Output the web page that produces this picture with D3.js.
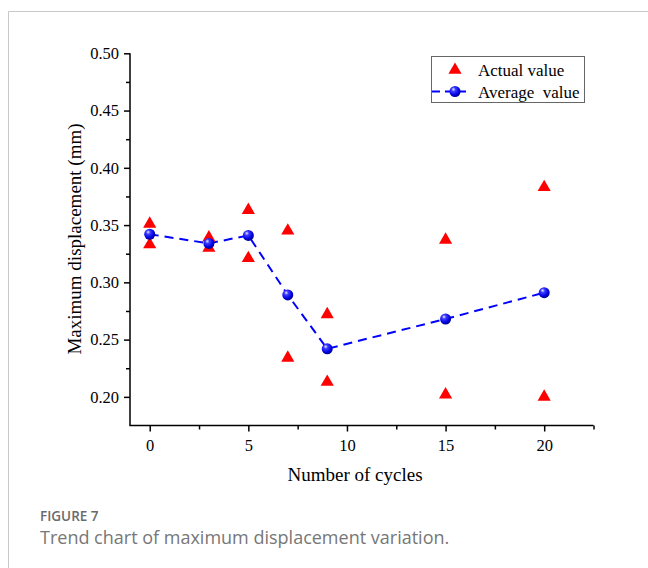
<!DOCTYPE html>
<html><head><meta charset="utf-8">
<script src="https://cdn.jsdelivr.net/npm/d3@7"></script>
<style>body{margin:0;background:#fff}svg{display:block}</style>
</head><body>
<svg id="c" width="648" height="568"></svg>
<script>
const cycles = [0, 3, 5, 7, 9, 15, 20];
const actualHigh = [0.351, 0.339, 0.363, 0.345, 0.272, 0.337, 0.383];
const actualLow = [0.333, 0.330, 0.321, 0.234, 0.213, 0.202, 0.200];
const averageVals = [0.342, 0.334, 0.341, 0.289, 0.242, 0.268, 0.291];
const xTicks = [0, 5, 10, 15, 20];
const yTicks = [0.20, 0.25, 0.30, 0.35, 0.40, 0.45, 0.50];

const svg = d3.select("#c");
const serif = "'Liberation Serif','Times New Roman',serif";

// outer frame
svg.append("line").attr("x1",8.5).attr("x2",648).attr("y1",11.5).attr("y2",11.5).attr("stroke","#c8c8c8").attr("stroke-width",1);
svg.append("line").attr("x1",8.5).attr("x2",8.5).attr("y1",11.5).attr("y2",568).attr("stroke","#c8c8c8").attr("stroke-width",1);

const x = d3.scaleLinear().domain([-1, 22.5]).range([130, 593.5]);
const y = d3.scaleLinear().domain([0.175, 0.50]).range([425.5, 53.3]);

const defs = svg.append("defs");
const grad = defs.append("radialGradient").attr("id","sph").attr("cx","40%").attr("cy","35%").attr("r","65%").attr("fx","35%").attr("fy","30%");
grad.append("stop").attr("offset","0%").attr("stop-color","#e8e8ff");
grad.append("stop").attr("offset","30%").attr("stop-color","#3a3aff");
grad.append("stop").attr("offset","75%").attr("stop-color","#0000e0");
grad.append("stop").attr("offset","100%").attr("stop-color","#00008a");

// axes
const xAxis = d3.axisBottom(x).tickValues(xTicks).tickSize(6).tickPadding(8).tickFormat(d3.format("d"));
const xMinor = d3.axisBottom(x).tickValues([2.5,7.5,12.5,17.5,22.5]).tickSize(4).tickFormat("");
const yAxis = d3.axisLeft(y).tickValues(yTicks).tickSize(6).tickPadding(5).tickFormat(d3.format(".2f"));
const yMinor = d3.axisLeft(y).tickValues([0.225,0.275,0.325,0.375,0.425,0.475]).tickSize(4).tickFormat("");

function style(g){
  g.select(".domain").remove();
  g.selectAll("line").attr("stroke","#000").attr("stroke-width",1.5);
  g.selectAll("text").attr("font-family",serif).attr("font-size",16.5).attr("fill","#000");
}
svg.append("g").attr("transform","translate(0,425.5)").call(xMinor).call(style);
svg.append("g").attr("transform","translate(0,425.5)").call(xAxis).call(style);
svg.append("g").attr("transform","translate(130,0)").call(yMinor).call(style);
svg.append("g").attr("transform","translate(130,0)").call(yAxis).call(style);
svg.append("path").attr("d",`M130,${y(0.5)}V425.5H${x(22.5)}`).attr("fill","none").attr("stroke","#000").attr("stroke-width",1.5);

// axis titles
svg.append("text").attr("x",355).attr("y",481).attr("text-anchor","middle").attr("font-family",serif).attr("font-size",19).text("Number of cycles");
svg.append("text").attr("transform","translate(81,239) rotate(-90)").attr("text-anchor","middle").attr("font-family",serif).attr("font-size",19).text("Maximum displacement (mm)");

// average line
const avgData = cycles.map((c,i)=>({c, v:averageVals[i]}));
svg.append("path").datum(avgData)
  .attr("d", d3.line().x(d=>x(d.c)).y(d=>y(d.v)))
  .attr("fill","none").attr("stroke","#0000ff").attr("stroke-width",2).attr("stroke-dasharray","9,6");

// triangles
const tri = d3.symbol().type(d3.symbolTriangle).size(75);
const actualData = cycles.flatMap((c,i)=>[{c,v:actualHigh[i]},{c,v:actualLow[i]}]);
svg.append("g").selectAll("path").data(actualData).join("path")
  .attr("d", tri).attr("transform", d=>`translate(${x(d.c)},${y(d.v)})`).attr("fill","#ff0000");

// spheres
svg.append("g").selectAll("circle").data(avgData).join("circle")
  .attr("cx", d=>x(d.c)).attr("cy", d=>y(d.v)).attr("r",5.5).attr("fill","url(#sph)");

// legend
const lg = svg.append("g");
lg.append("rect").attr("x",431.5).attr("y",56.5).attr("width",153).attr("height",46).attr("fill","#fff").attr("stroke","#666").attr("stroke-width",1);
lg.append("path").attr("d",tri).attr("transform","translate(455,70)").attr("fill","#ff0000");
lg.append("line").attr("x1",432).attr("x2",468).attr("y1",91.5).attr("y2",91.5).attr("stroke","#0000ff").attr("stroke-width",2).attr("stroke-dasharray","8,5");
lg.append("circle").attr("cx",455).attr("cy",91.5).attr("r",5.5).attr("fill","url(#sph)");
lg.append("text").attr("x",478).attr("y",76).attr("font-family",serif).attr("font-size",17).text("Actual value");
lg.append("text").attr("x",478).attr("y",97.5).attr("font-family",serif).attr("font-size",17).attr("xml:space","preserve").style("white-space","pre").text("Average  value");

// caption
svg.append("text").attr("x",40).attr("y",521).attr("font-family","'Open Sans',sans-serif").attr("font-size",13.5).attr("font-weight",600).attr("fill","#6a6a6a").text("FIGURE 7");
svg.append("text").attr("x",40).attr("y",544).attr("font-family","'Open Sans',sans-serif").attr("font-size",18).attr("font-weight",400).attr("fill","#777").text("Trend chart of maximum displacement variation.");
</script>
</body></html>
